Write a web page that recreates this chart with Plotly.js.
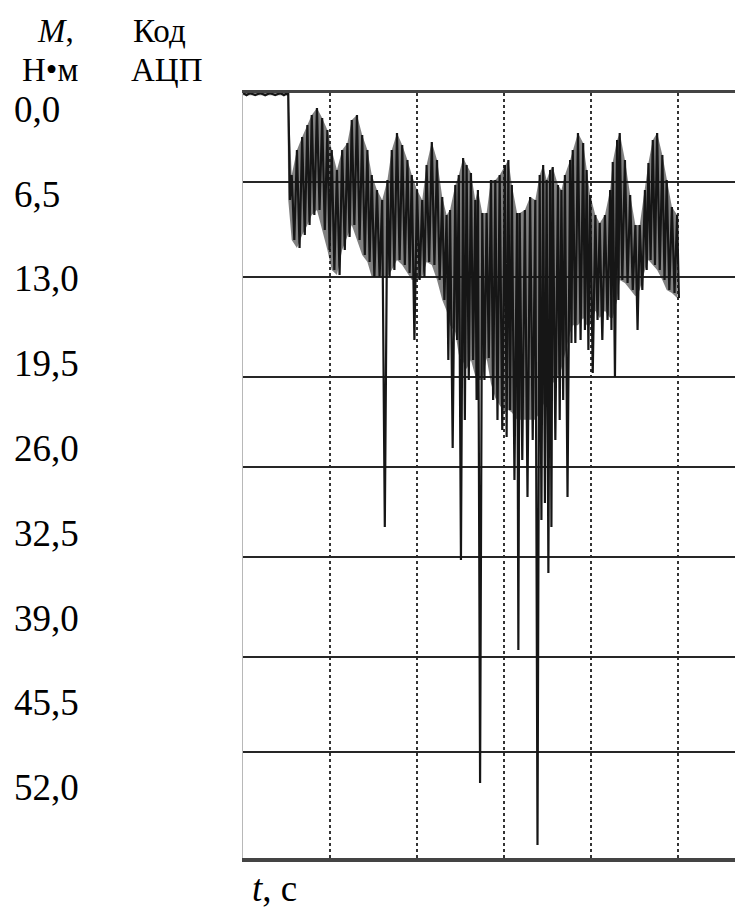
<!DOCTYPE html>
<html>
<head>
<meta charset="utf-8">
<script src="https://cdn.plot.ly/plotly-3.0.1.min.js"></script>
<style>html,body{margin:0;padding:0;background:#fff;}#chart{width:735px;height:908px;}</style>
</head>
<body>
<div id="chart"></div>
<script>
// time, in grid divisions (vertical dashed lines at 1,2,3,4,5)
const t = [0, 0.08, 0.2, 0.31, 0.43, 0.51, 0.52, 0.56, 0.62, 0.68, 0.74, 0.79, 0.85, 0.91, 0.97, 1.02, 1.08, 1.14, 1.2, 1.25,
  1.31, 1.37, 1.43, 1.48, 1.54, 1.6, 1.66, 1.71, 1.77, 1.83, 1.89, 1.94, 2.0, 2.06, 2.11, 2.17, 2.23, 2.29, 2.34, 2.38,
  2.44, 2.48, 2.53, 2.57, 2.62, 2.67, 2.7, 2.75, 2.8, 2.85, 2.9, 2.95, 3.01, 3.05, 3.09, 3.15, 3.18, 3.24, 3.3, 3.36,
  3.41, 3.45, 3.49, 3.53, 3.56, 3.62, 3.66, 3.7, 3.76, 3.79, 3.85, 3.91, 3.95, 3.99, 4.05, 4.1, 4.16, 4.22, 4.25, 4.3,
  4.33, 4.39, 4.45, 4.51, 4.56, 4.62, 4.66, 4.71, 4.76, 4.82, 4.87, 4.93, 4.99];
// upper extremes of the torque oscillation, N·m (axis points down)
const upperM = [0, 0, 0, 0, 0, 0, 0, 5.65, 3.93, 3.03, 2.20, 1.51, 1.03, 1.72, 2.55, 3.93, 5.30, 3.93, 3.44, 1.86,
  1.51, 2.89, 3.93, 5.65, 6.68, 7.37, 5.99, 3.93, 2.75, 3.58, 4.61, 5.65, 6.68, 7.37, 4.96, 3.37, 4.61, 7.16, 8.40, 8.06,
  6.34, 5.65, 4.48, 4.96, 5.51, 7.37, 6.68, 8.26, 8.26, 5.99, 5.99, 5.65, 4.96, 4.61, 6.34, 8.26, 8.26, 8.06, 7.16, 7.37,
  5.65, 4.96, 5.99, 5.30, 5.10, 6.34, 6.68, 5.65, 4.61, 3.93, 2.75, 3.44, 5.30, 7.02, 8.40, 8.95, 8.40, 6.68, 4.75, 3.24,
  2.75, 4.61, 7.02, 9.09, 9.09, 6.68, 4.82, 3.24, 2.75, 4.27, 5.99, 7.85, 8.40];
// lower extremes (including the deep spikes)
const lowerM = [0.15, 0.15, 0.15, 0.15, 0.15, 0.15, 7.37, 10.12, 10.67, 9.78, 9.09, 8.40, 8.06, 9.43, 10.81, 12.19, 12.53, 10.81, 9.92, 9.09,
  10.12, 11.16, 11.64, 12.67, 12.67, 29.89, 12.67, 12.19, 11.50, 11.84, 12.39, 17.01, 12.88, 12.67, 11.64, 11.84, 12.88, 14.25, 18.39, 24.45,
  17.01, 32.16, 22.52, 19.76, 18.39, 21.14, 47.51, 19.76, 18.25, 21.14, 22.52, 23.21, 23.69, 21.83, 26.65, 38.35, 25.27, 27.82, 23.89, 51.78,
  29.40, 28.23, 33.05, 29.89, 23.89, 22.52, 21.14, 27.82, 17.22, 17.22, 17.01, 16.32, 17.70, 19.28, 15.63, 17.01, 15.63, 16.32, 19.56, 14.25,
  12.88, 13.08, 13.57, 16.32, 13.57, 12.19, 11.50, 11.84, 12.19, 12.88, 13.57, 13.77, 14.12];
// lower edge of the dense dark band (without the lone spikes)
const bodyM = [0.15, 0.15, 0.15, 0.15, 0.15, 0.15, 7.37, 10.12, 10.67, 9.78, 9.09, 8.40, 8.06, 9.43, 10.81, 12.19, 12.53, 10.81, 9.92, 9.09,
  10.12, 11.16, 11.64, 12.67, 12.67, 12.67, 12.67, 12.19, 11.50, 11.84, 12.39, 12.88, 12.88, 12.67, 11.64, 11.84, 12.88, 14.25, 15.0, 16.0,
  16.5, 18.0, 18.5, 19.0, 18.39, 19.5, 19.76, 19.76, 18.25, 20.0, 21.0, 21.5, 22.0, 21.83, 22.0, 22.5, 22.5, 22.5, 22.5, 22.5,
  22.0, 21.5, 21.0, 20.5, 20.0, 19.5, 19.0, 18.0, 16.5, 16.0, 16.0, 15.5, 16.0, 16.0, 15.0, 15.5, 15.0, 15.5, 15.5, 14.25,
  12.88, 13.08, 13.57, 14.0, 13.57, 12.19, 11.50, 11.84, 12.19, 12.88, 13.57, 13.77, 14.12];

// horizontal grid lines as they sit on the scanned sheet
const gridM = [6.13, 12.67, 19.56, 25.75, 31.95, 38.84, 45.38];
const gridT = [1, 2, 3, 4, 5];
// left-hand scale labels
const labelVals = [0, 6.5, 13, 19.5, 26, 32.5, 39, 45.5, 52];
const labelText = ['0,0', '6,5', '13,0', '19,5', '26,0', '32,5', '39,0', '45,5', '52,0'];

const n = t.length;
const xz = [], yz = [];
for (let i = 0; i < n; i++) {
  const half = i < n - 1 ? (t[i + 1] - t[i]) / 2 : 0.02;
  xz.push(t[i]); yz.push(upperM[i]);
  xz.push(t[i] + half); yz.push(lowerM[i]);
}

const serif = '"Liberation Serif", "Times New Roman", serif';
const fs = 37;
const hfs = 33;
const traces = [
  {x: t, y: upperM, mode: 'lines', line: {width: 0, color: 'rgba(0,0,0,0)'}, hoverinfo: 'skip'},
  {x: t, y: bodyM, mode: 'lines', fill: 'tonexty', fillcolor: 'rgba(25,25,25,0.55)', line: {width: 0, color: 'rgba(0,0,0,0)'}, hoverinfo: 'skip'},
  {x: xz, y: yz, mode: 'lines', line: {color: '#161616', width: 2.2}, hoverinfo: 'skip'},
  {x: [], y: [], yaxis: 'y2', mode: 'markers', hoverinfo: 'skip'}
];

const layout = {
  width: 735, height: 908,
  margin: {l: 0, r: 0, t: 93, b: 50},
  paper_bgcolor: '#fff', plot_bgcolor: '#fff',
  showlegend: false,
  font: {family: serif, color: '#000'},
  xaxis: {
    domain: [243 / 735, 1], range: [0, 5.655],
    tickvals: gridT, showticklabels: false, ticks: '',
    showgrid: true, griddash: 'dot', gridcolor: '#333', gridwidth: 2,
    zeroline: false, showline: true, mirror: true, linecolor: '#444', linewidth: 3.5
  },
  yaxis: {
    domain: [0, 1], range: [52.68, 0],
    tickvals: gridM, showticklabels: false, ticks: '',
    showgrid: true, gridcolor: '#262626', gridwidth: 2.5,
    zeroline: false, showline: true, linecolor: '#b8b8b8', linewidth: 1.5
  },
  yaxis2: {
    overlaying: 'y', anchor: 'free', position: 13 / 735, side: 'right',
    range: [57.44, -1.227],
    tickvals: labelVals, ticktext: labelText, ticks: '',
    showgrid: false, zeroline: false, showline: false,
    tickfont: {family: serif, size: fs, color: '#000'}
  },
  annotations: [
    {text: '<i>M</i>,', xref: 'paper', yref: 'paper', x: 36 / 735, y: (858 - 31) / 765, xanchor: 'left', yanchor: 'middle', showarrow: false, borderpad: 0, font: {family: serif, size: hfs, color: '#000'}},
    {text: 'Код', xref: 'paper', yref: 'paper', x: 132 / 735, y: (858 - 31) / 765, xanchor: 'left', yanchor: 'middle', showarrow: false, borderpad: 0, font: {family: serif, size: hfs, color: '#000'}},
    {text: 'Н•м', xref: 'paper', yref: 'paper', x: 21 / 735, y: (858 - 70) / 765, xanchor: 'left', yanchor: 'middle', showarrow: false, borderpad: 0, font: {family: serif, size: hfs, color: '#000'}},
    {text: 'АЦП', xref: 'paper', yref: 'paper', x: 130 / 735, y: (858 - 70) / 765, xanchor: 'left', yanchor: 'middle', showarrow: false, borderpad: 0, font: {family: serif, size: hfs, color: '#000'}},
    {text: '<i>t</i>, с', xref: 'paper', yref: 'paper', x: 250 / 735, y: (858 - 888) / 765, xanchor: 'left', yanchor: 'middle', showarrow: false, font: {family: serif, size: fs, color: '#000'}}
  ]
};

Plotly.newPlot('chart', traces, layout, {staticPlot: true, displayModeBar: false});
</script>
</body>
</html>
